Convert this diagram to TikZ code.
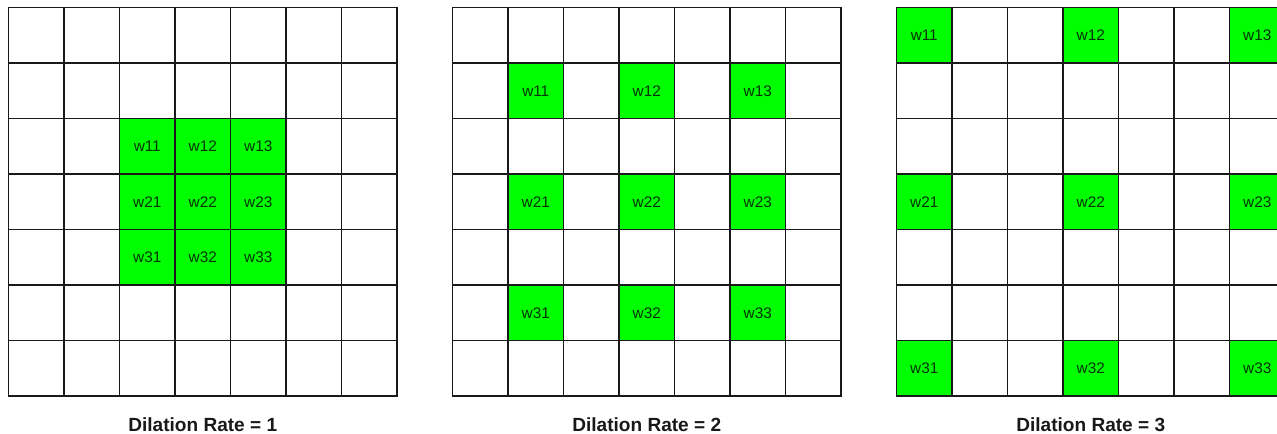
\documentclass[tikz,border=0pt]{standalone}
\usepackage{fontspec}
\setmainfont{Liberation Sans}
\begin{document}
\begin{tikzpicture}[x=0.75pt,y=-0.75pt,
  cell/.style={draw=black!90, line width=1pt, minimum size=41.625pt, inner sep=0pt, outer sep=0pt},
  wcell/.style={cell, fill=green, font=\fontsize{11.5}{13}\selectfont, text=black!80!green},
  title/.style={font=\bfseries\fontsize{14.3}{16}\selectfont, text=black!90, inner sep=0pt}]
\useasboundingbox (0,0) rectangle (1277,434);
\clip (0,0) rectangle (1277,434);
\foreach \g in {1,2,3} {
  \foreach \r in {0,...,6} {
    \foreach \c in {0,...,6} {
      \node[cell] (g\g-\r-\c) at ({8.5+444*(\g-1)+55.5*(\c+0.5)}, {7.5+55.5*(\r+0.5)}) {};
    }
  }
  \foreach \i in {1,2,3} {
    \foreach \j in {1,2,3} {
      \pgfmathtruncatemacro{\rr}{3+\g*(\i-2)}
      \pgfmathtruncatemacro{\cc}{3+\g*(\j-2)}
      \node[wcell] (w\g-\i\j) at (g\g-\rr-\cc) {w\i\j};
    }
  }
  \node[title] (t\g) at ({8.5+444*(\g-1)+194.25}, 425) {Dilation Rate = \g};
}
\end{tikzpicture}
\end{document}
